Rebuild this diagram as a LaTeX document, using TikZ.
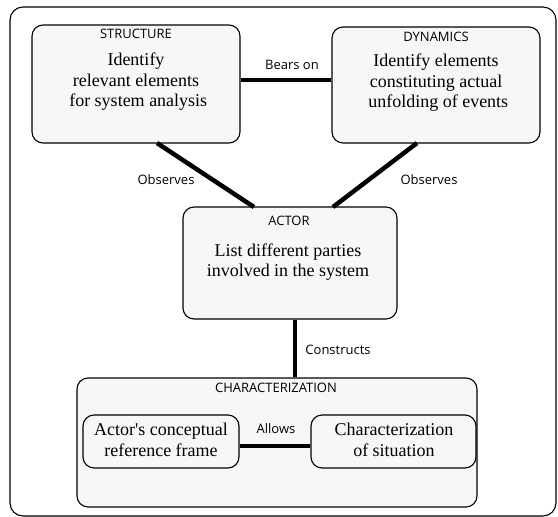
\documentclass[tikz,border=0pt]{standalone}
\usepackage{fontspec}
\setmainfont{Liberation Serif}
\newfontfamily\labfont{Open Sans}
\begin{document}
\begin{tikzpicture}[x=1pt,y=-1pt,
  box/.style={draw=black,line width=1.1pt,rounded corners=11pt,fill=black!3,inner sep=0pt},
  conn/.style={line width=4.5pt,line cap=butt},
  ttl/.style={font=\labfont\fontsize{13}{15}\selectfont,inner sep=0pt},
  body/.style={font=\fontsize{18}{20.5}\selectfont,align=center,inner sep=0pt},
  lab/.style={font=\labfont\fontsize{13}{15}\selectfont,inner sep=0pt}]
\useasboundingbox (0,0) rectangle (558,517);
\draw[line width=1.1pt,rounded corners=13pt] (10,7) rectangle (556,516);
% boxes
\node[box,minimum width=208pt,minimum height=118pt] (str) at (136,84) {};
\node[box,minimum width=208pt,minimum height=116pt] (dyn) at (436,85) {};
\node[box,minimum width=214pt,minimum height=112pt] (act) at (290,263) {};
\node[box,minimum width=400pt,minimum height=129pt] (chr) at (277,442.5) {};
\node[box,minimum width=156pt,minimum height=53pt] (crf) at (161,441.5) {};
\node[box,minimum width=165pt,minimum height=53pt] (cs) at (393.5,441.5) {};
% titles
\node[ttl] (strt) at (136,34) {STRUCTURE};
\node[ttl] (dynt) at (436,37) {DYNAMICS};
\node[ttl] (actt) at (289,221) {ACTOR};
\node[ttl] (chrt) at (276,388) {CHARACTERIZATION};
% bodies
\node[body] (strb) at (136,82) {Identify\\relevant elements\\\ for system analysis};
\node[body] (dynb) at (436,83) {Identify elements\\constituting actual\\\ unfolding of events};
\node[body] (actb) at (288,262) {List different parties\\involved in the system};
\node[body] (crfb) at (161,440) {Actor\textquotesingle s conceptual\\reference frame};
\node[body] (csb) at (394,440) {Characterization\\of situation};
% connectors
\draw[conn] (str.east |- 0,80) -- (dyn.west |- 0,80);
\coordinate (s1) at (157,143);
\coordinate (a1) at (254,207);
\coordinate (d1) at (417,143);
\coordinate (a2) at (333,207);
\draw[conn] (s1) -- (a1);
\draw[conn] (d1) -- (a2);
\draw[conn] (act.south -| 295,0) -- (chr.north -| 295,0);
\draw[conn] (crf.east |- 0,446) -- (cs.west |- 0,446);
% labels
\node[lab] (l1) at (292,65) {Bears on};
\node[lab] (l2) at (166,180) {Observes};
\node[lab] (l3) at (429,180) {Observes};
\node[lab] (l4) at (338,350) {Constructs};
\node[lab] (l5) at (276,429) {Allows};
\end{tikzpicture}
\end{document}
